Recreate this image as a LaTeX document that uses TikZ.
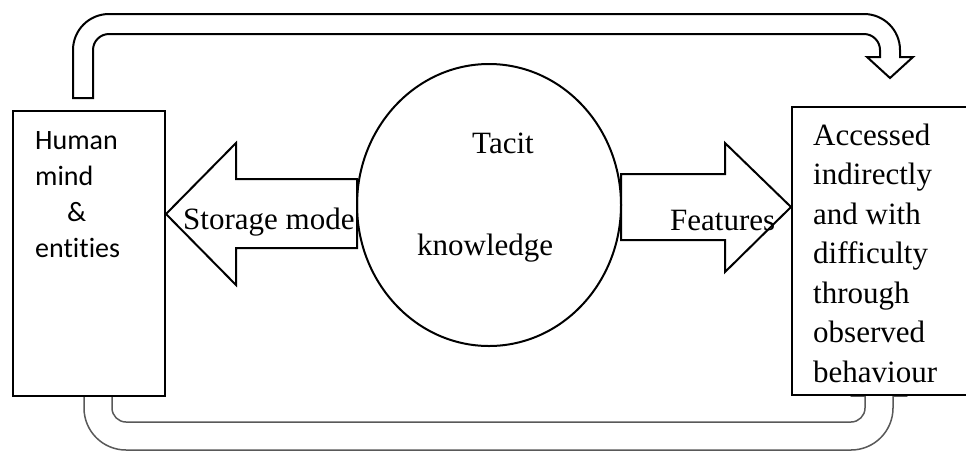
\documentclass[tikz,border=0pt]{standalone}
\usepackage{fontspec}
\setmainfont{Liberation Serif}
\newfontfamily\labelsans[Ligatures=CommonOff]{Carlito}
\begin{document}
\begin{tikzpicture}[x=1pt,y=-1pt,
  outline/.style={draw=black,line width=2pt,fill=white,line join=miter},
  loopline/.style={draw=black!65,line width=1.5pt,line join=round},
  serif/.style={font=\fontsize{31}{39.5}\selectfont,inner sep=0pt},
  sans/.style={font=\labelsans\fontsize{28}{35.7}\selectfont,inner sep=0pt},
  boxstyle/.style={draw=black,line width=2pt,fill=white,inner sep=0pt}]
\clip (0,0) rectangle (966,451);
\fill[white] (0,0) rectangle (966,451);

% lower return loop (its head sits under the right box)
\draw[loopline] (112,396) -- (112,408)
  .. controls (112,415.7) and (118.3,422) .. (126,422) -- (851,422)
  .. controls (858.7,422) and (865,415.7) .. (865,408) -- (865,396)
  -- (851,396) -- (879,370) -- (907,396) -- (893,396) -- (893,408)
  .. controls (893,431.2) and (874.2,450) .. (851,450) -- (126,450)
  .. controls (102.8,450) and (84,431.2) .. (84,408) -- (84,396);

% boxes
\node[boxstyle,minimum width=152pt,minimum height=285pt] (human) at (89,253.5) {};
\node[boxstyle,minimum width=190pt,minimum height=288pt] (access) at (887,251) {};

% upper loop arrow
\draw[outline] (73,98) -- (73,50)
  .. controls (73,30.1) and (89.1,14) .. (109,14) -- (864,14)
  .. controls (883.9,14) and (900,30.1) .. (900,50) -- (900,57)
  -- (913,57) -- (890,78) -- (867,57) -- (880,57) -- (880,50)
  .. controls (880,41.2) and (872.8,34) .. (864,34) -- (109,34)
  .. controls (100.2,34) and (93,41.2) .. (93,50) -- (93,98) -- cycle;

% block arrows
\draw[outline] (357,179) -- (236,179) -- (236,143) -- (human.east |- 0,214)
  -- (236,285) -- (236,248) -- (357,248) -- cycle;
\draw[outline] (621,174) -- (725,174) -- (725,143) -- (access.west |- 0,207)
  -- (725,272) -- (725,240) -- (621,240) -- cycle;

% central circle
\draw[line width=2pt] (489,205) ellipse [x radius=132, y radius=141];
\node[serif,anchor=base west] (tacit) at (472,153) {Tacit};
\node[serif,anchor=base west] (knowledge) at (417,255) {knowledge};

% arrow labels
\node[serif,anchor=base west] (storage) at (183,229) {Storage mode};
\node[serif,anchor=base west] (features) at (670,230) {Features};

% box texts (base anchor sits on the last line)
\node[sans,anchor=base west,align=left] (humantext) at (35,257)
  {Human\\mind\\\hspace*{32pt}\&\\entities};
\node[serif,anchor=base west,align=left] (accesstext) at (813,382)
  {Accessed\\indirectly\\and with\\difficulty\\through\\observed\\behaviour};
\end{tikzpicture}
\end{document}
